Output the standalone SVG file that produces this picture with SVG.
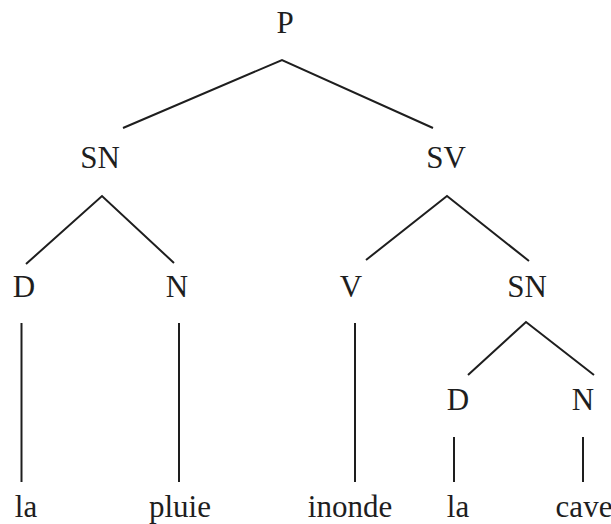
<svg xmlns="http://www.w3.org/2000/svg" width="611" height="524" viewBox="0 0 611 524">
  <style>
    .lbl { font-family: 'Liberation Serif', Tinos, 'Times New Roman', Times, serif; font-size: 31px; fill: #1e1e1e; text-anchor: middle; }
    .edge { stroke: #1e1e1e; stroke-width: 2; fill: none; stroke-linecap: butt; }
  </style>
  <rect width="611" height="524" fill="#ffffff"/>

  <!-- tree branches -->
  <g id="connectors">
    <path class="edge" d="M123,128 L282,60 L433,128"/>
    <path class="edge" d="M26,264 L102,196 L174,263"/>
    <path class="edge" d="M366,260 L447,196 L529,261"/>
    <path class="edge" d="M468,375 L526,322 L594,375"/>
    <line class="edge" x1="21.5" y1="323" x2="21.5" y2="482"/>
    <line class="edge" x1="179" y1="323" x2="179" y2="482"/>
    <line class="edge" x1="355" y1="323" x2="355" y2="482"/>
    <line class="edge" x1="454" y1="437" x2="454" y2="482"/>
    <line class="edge" x1="583" y1="437" x2="583" y2="482"/>
  </g>

  <!-- category nodes -->
  <g id="node-P"><text class="lbl" x="285" y="33" font-family="Liberation Serif, serif">P</text></g>
  <g id="node-SN1"><text class="lbl" x="100" y="168">SN</text></g>
  <g id="node-SV"><text class="lbl" x="446" y="168">SV</text></g>
  <g id="node-D1"><text class="lbl" x="24" y="297">D</text></g>
  <g id="node-N1"><text class="lbl" x="177" y="297">N</text></g>
  <g id="node-V"><text class="lbl" x="351" y="297">V</text></g>
  <g id="node-SN2"><text class="lbl" x="527" y="297">SN</text></g>
  <g id="node-D2"><text class="lbl" x="458" y="410">D</text></g>
  <g id="node-N2"><text class="lbl" x="583" y="410">N</text></g>

  <!-- words -->
  <g id="word-la1"><text class="lbl" x="26" y="517">la</text></g>
  <g id="word-pluie"><text class="lbl" x="180" y="517">pluie</text></g>
  <g id="word-inonde"><text class="lbl" x="350" y="517">inonde</text></g>
  <g id="word-la2"><text class="lbl" x="458" y="517">la</text></g>
  <g id="word-cave"><text class="lbl" x="584" y="517">cave</text></g>
</svg>
